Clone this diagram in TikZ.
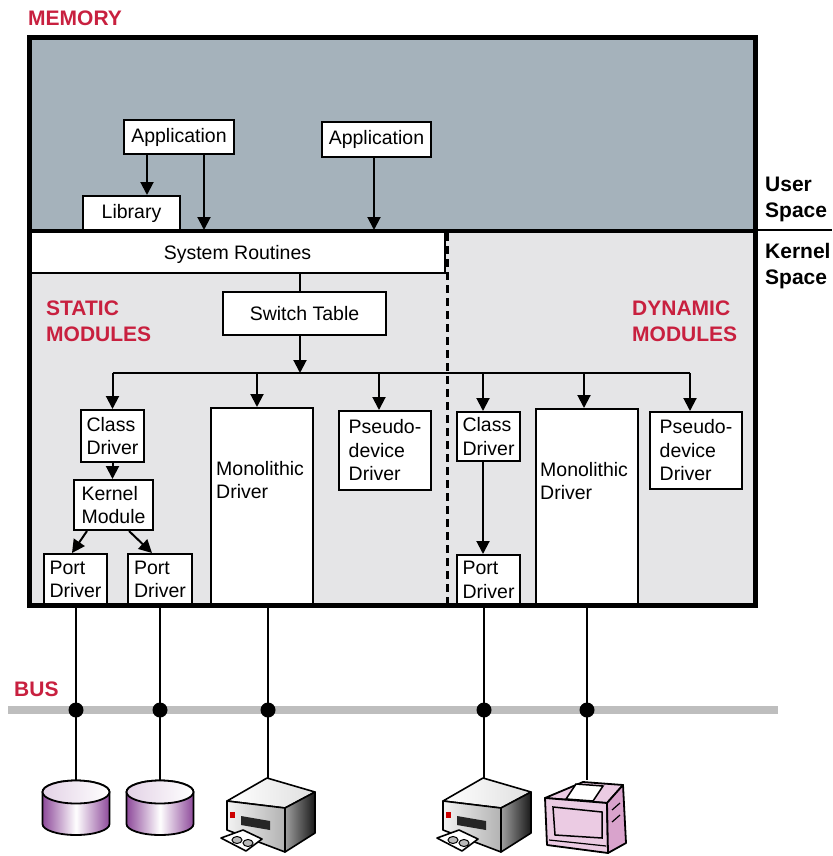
\documentclass[tikz,border=0pt]{standalone}
\usepackage{fontspec}
\setmainfont{Liberation Sans}
\usetikzlibrary{arrows.meta,positioning,shapes.geometric}
\definecolor{memred}{HTML}{C8203F}
\definecolor{userfill}{HTML}{A5B2BB}
\definecolor{kernfill}{HTML}{E5E5E7}
\definecolor{busgray}{HTML}{BEBEBE}
\definecolor{diskpurple}{HTML}{8E4A9A}
\definecolor{printpink}{HTML}{EBCBE3}
\definecolor{printside}{HTML}{D9A3CC}

\tikzset{
  box/.style={draw, line width=2pt, fill=white, inner sep=2pt, align=left, font=\fontsize{19.5}{23.5}\selectfont},
  txt/.style={inner sep=0pt, align=left, font=\fontsize{19.5}{23.5}\selectfont},
  arr/.style={-{Triangle[length=13pt,width=13pt]}, line width=2pt},
  wire/.style={line width=2pt},
  tag/.style={font=\bfseries\fontsize{21}{26}\selectfont, text=memred, align=left, inner sep=0pt},
  side/.style={font=\bfseries\fontsize{21}{26}\selectfont, align=left, inner sep=0pt},
  dot/.style={circle, fill=black, inner sep=0pt, minimum size=15pt},
}

\begin{document}
\begin{tikzpicture}[x=1pt,y=-1pt]
    \useasboundingbox (0,0) rectangle (832,856);

    % Memory regions
    \fill[userfill] (29.5,37.5) rectangle (755,231);
    \fill[kernfill] (29.5,231) rectangle (755,605.5);

    % User space
    \node[box, minimum width=110pt, minimum height=34pt, align=center] (app1) at (179,137) {Application};
    \node[box, minimum width=109pt, minimum height=35pt, align=center] (app2) at (376.5,139.5) {Application};
    \node[box, minimum width=97pt, minimum height=34pt, align=center] (lib) at (131.5,213) {Library};

    % Kernel space
    \node[box, minimum width=415pt, minimum height=42pt, align=center, text depth=0pt] (sysr) at (237.5,252) {System Routines};
    \node[box, minimum width=163pt, minimum height=43pt, align=center] (switch) at (304.5,313.5) {Switch Table};

    % Static modules
    \node[box, minimum width=63pt, minimum height=52pt] (scd) at (112.5,436) {Class\\Driver};
    \node[box, minimum width=79pt, minimum height=50pt] (kmod) at (113.5,505) {Kernel\\Module};
    \node[box, minimum width=63pt, minimum height=51pt] (port1) at (75.5,579.5) {Port\\Driver};
    \node[box, minimum width=64pt, minimum height=51pt] (port2) at (160,579.5) {Port\\Driver};
    \node[box, minimum width=102pt, minimum height=197pt] (smono) at (262,506.5) {};
    \node[txt, anchor=north west] (smonotxt) at ([xshift=6pt,yshift=-54pt]smono.north west) {Monolithic\\Driver};
    \node[box, minimum width=92pt, minimum height=79pt] (spseudo) at (385,450.5) {Pseudo-\\device\\Driver};

    % Dynamic modules
    \node[box, minimum width=63pt, minimum height=49pt] (dcd) at (488.5,436.5) {Class\\Driver};
    \node[box, minimum width=63pt, minimum height=50pt] (dport) at (488.5,580) {Port\\Driver};
    \node[box, minimum width=102pt, minimum height=196pt] (dmono) at (587,507) {};
    \node[txt, anchor=north west] (dmonotxt) at ([xshift=5pt,yshift=-54pt]dmono.north west) {Monolithic\\Driver};
    \node[box, minimum width=92pt, minimum height=77pt] (dpseudo) at (696,450.5) {Pseudo-\\device\\Driver};

    % Calls into the kernel
    \draw[arr] ([xshift=-32pt]app1.south) -- ([xshift=-32pt]app1.south |- lib.north);
    \draw[arr] ([xshift=25pt]app1.south) -- ([xshift=25pt]app1.south |- sysr.north);
    \draw[arr] ([xshift=-2.5pt]app2.south) -- ([xshift=-2.5pt]app2.south |- sysr.north);
    \draw[wire] ([xshift=-4.5pt]switch.north |- sysr.south) -- ([xshift=-4.5pt]switch.north);

    % Switch table fan-out
    \coordinate (split) at (300,373);
    \draw[arr] ([xshift=-4.5pt]switch.south) -- (split);
    \draw[wire] (scd.north |- split) -- ([xshift=-6pt]dpseudo.north |- split);
    \foreach \n/\dx in {scd/0, smono/-5, spseudo/-6, dcd/-5.5, dmono/-3, dpseudo/-6}
        \draw[arr] ([xshift=\dx pt]\n.north |- split) -- ([xshift=\dx pt]\n.north);

    % Driver stacks
    \draw[arr] (scd.south) -- (scd.south |- kmod.north);
    \draw[arr] ([xshift=14pt]kmod.south west) -- ([xshift=29pt]port1.north west);
    \draw[arr] ([xshift=-25pt]kmod.south east) -- ([xshift=25pt]port2.north west);
    \draw[arr] ([xshift=-5.5pt]dcd.south) -- ([xshift=-5.5pt]dcd.south |- dport.north);

    % Bus
    \coordinate (busL) at (8,710);
    \coordinate (busR) at (778,710);
    \draw[busgray, line width=8pt] (busL) -- (busR);
    \node[tag, anchor=north west] (bus) at (14,682) {BUS};
    \foreach \n/\dx/\d in {port1/0.5/d1, port2/0/d2, smono/6/d3, dport/-4.5/d4, dmono/0/d5} {
        \draw[wire] ([xshift=\dx pt]\n.south) -- ([xshift=\dx pt]\n.south |- 0,780);
        \node[dot] (\d) at ([xshift=\dx pt]\n.south |- busL) {};
    }

    % Borders
    \draw[line width=4pt] (29.5,231) -- (755,231);
    \draw[line width=1.2pt] (755,230) -- (832,230);
    \draw[line width=2.2pt, dash pattern=on 8pt off 5pt] (447.5,233) -- (447.5,604);
    \draw[line width=5pt] (29.5,37.5) rectangle (755,605.5);

    % Labels
    \node[tag, anchor=base west] (memory) at (28,26) {MEMORY};
    \node[tag, anchor=north west] (static) at (46,301) {STATIC\\MODULES};
    \node[tag, anchor=north west] (dynamic) at (632,301) {DYNAMIC\\MODULES};
    \node[side, anchor=north west] (user) at (765,177) {User\\Space};
    \node[side, anchor=north west] (kernel) at (765,243) {Kernel\\Space};

    % Disks
    \foreach \cx in {76,160} {
        \draw[line width=1.8pt, left color=diskpurple, right color=diskpurple, middle color=white]
            (\cx-33.5,792) -- (\cx-33.5,824) arc[start angle=180, end angle=0, x radius=33.5, y radius=11]
            -- (\cx+33.5,792) arc[start angle=0, end angle=-180, x radius=33.5, y radius=11.5] -- cycle;
        \draw[line width=1.8pt, left color=diskpurple!25, right color=white] (\cx,792) ellipse[x radius=33.5, y radius=11.5];
    }

    % Drives
    \foreach \cx in {268,484} {
        \draw[line width=1.6pt, line join=round, left color=white, right color=gray!25]
            (\cx-41,801) -- (\cx-1,778) -- (\cx+47,792) -- (\cx+17,808) -- cycle;
        \draw[line width=1.6pt, line join=round, left color=gray!10, right color=gray!60]
            (\cx-41,801) -- (\cx+17,808) -- (\cx+17,852) -- (\cx-41,830) -- cycle;
        \draw[line width=1.6pt, line join=round, left color=gray!75, right color=black!90]
            (\cx+17,808) -- (\cx+47,792) -- (\cx+47,833) -- (\cx+17,852) -- cycle;
        \fill[black!85] (\cx-27,816) -- (\cx+2,821) -- (\cx+2,830) -- (\cx-27,825) -- cycle;
        \fill[red!80!black] (\cx-38,812) rectangle (\cx-33,818);
        \draw[line width=1.6pt, line join=round, fill=white]
            (\cx-47,838) -- (\cx-25,830) -- (\cx-6,839) -- (\cx-22,851) -- cycle;
        \draw[line width=1pt, fill=gray!55] (\cx-31,840) ellipse[x radius=5, y radius=3.5];
        \draw[line width=1pt, fill=gray!55] (\cx-20,843) ellipse[x radius=5, y radius=3.5];
    }

    % Printer
    \draw[line width=1.8pt, line join=round, fill=printpink]
        (545,798) -- (583,782) -- (623,785) -- (607,803) -- cycle;
    \draw[line width=1.8pt, line join=round, fill=printpink]
        (545,798) -- (607,803) -- (608,853) -- (547,845) -- cycle;
    \draw[line width=1.8pt, line join=round, fill=printside]
        (607,803) -- (623,785) -- (626,843) -- (608,853) -- cycle;
    \draw[line width=1.5pt, fill=white] (576,784) -- (603,786) -- (593,801) -- (566,799) -- cycle;
    \draw[line width=1.5pt] (553,807) -- (602,812) -- (602,838) -- (555,835) -- cycle;
    \draw[line width=1.2pt] (549,840) -- (606,846);
    \draw[line width=1.2pt] (612,810) -- (620,803);
    \draw[line width=1.2pt] (612,822) -- (620,815);
\end{tikzpicture}
\end{document}
